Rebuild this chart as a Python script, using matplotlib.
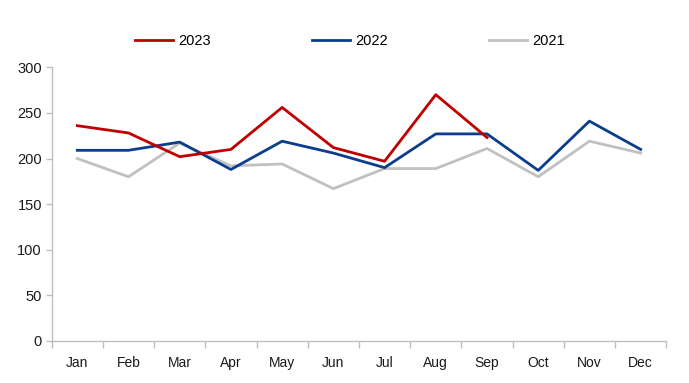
import matplotlib
matplotlib.use("Agg")
import matplotlib.pyplot as plt
import numpy as np

months = ["Jan", "Feb", "Mar", "Apr", "May", "Jun", "Jul", "Aug", "Sep", "Oct", "Nov", "Dec"]
s2023 = [236, 228, 202, 210, 256, 212, 197, 270, 223]
s2022 = [209, 209, 218, 188, 219, 206, 190, 227, 227, 187, 241, 210]
s2021 = [200, 180, 217, 192, 194, 167, 189, 189, 211, 180, 219, 206]
yticks = [0, 50, 100, 150, 200, 250, 300]

plt.rcParams['font.family'] = ['Liberation Sans', 'DejaVu Sans']
fig = plt.figure(figsize=(6.89, 3.83), dpi=100)
ax = fig.add_axes([0.075, 0.1097, 0.892, 0.7146])

x = np.arange(len(months))
lw = 2.0
l1, = ax.plot(x[:len(s2023)], s2023, color="#c00000", lw=lw, label="2023", zorder=4)
l2, = ax.plot(x, s2022, color="#0a3d8c", lw=lw, label="2022", zorder=3)
l3, = ax.plot(x, s2021, color="#c0c0c0", lw=lw, label="2021", zorder=2)

ax.set_xlim(-0.5, 11.5)
ax.set_ylim(0, 300)
ax.set_yticks(yticks)
ax.set_xticks(x)
ax.set_xticklabels(months)
ax.set_xticks(np.arange(-0.5, 12, 1), minor=True)
ax.tick_params(axis='x', which='major', length=0, pad=11, labelsize=10, colors="#1a1a1a")
ax.tick_params(axis='x', which='minor', length=5, color="#bfbfbf", width=1)
ax.tick_params(axis='y', length=4, color="#bfbfbf", width=1, labelsize=10.5, labelcolor="#1a1a1a", pad=3)
for s in ["top", "right"]:
    ax.spines[s].set_visible(False)
for s in ["left", "bottom"]:
    ax.spines[s].set_color("#bfbfbf")
    ax.spines[s].set_linewidth(1)

fig.legend(handles=[l1, l2, l3], loc="center", bbox_to_anchor=(0.508, 0.893), ncol=3,
           frameon=False, fontsize=10.5, handlelength=2.6, handletextpad=0.4,
           columnspacing=6.9)

fig.savefig("out.png", dpi=100)
